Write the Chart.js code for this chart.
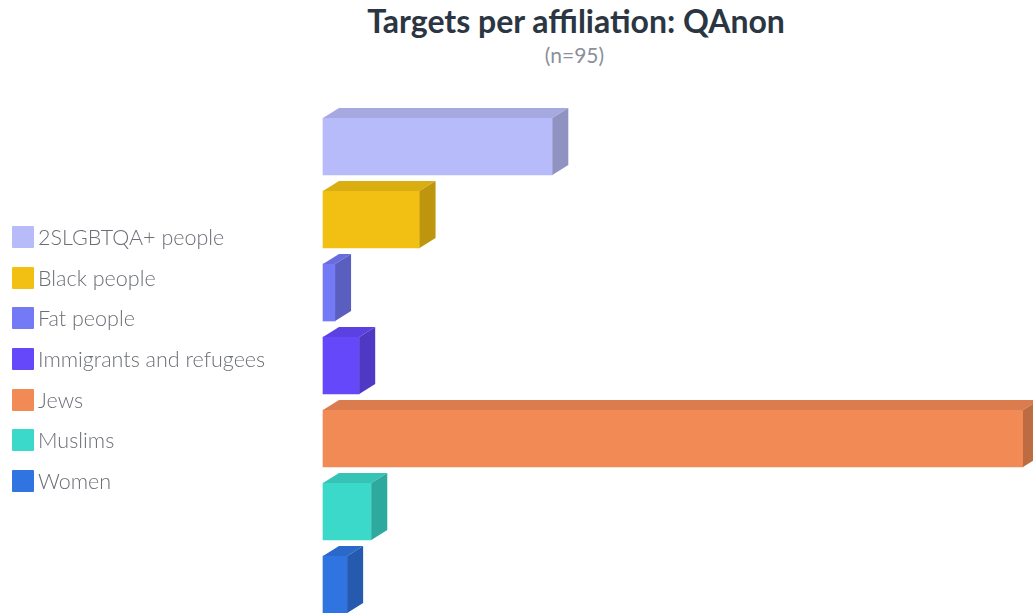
<!DOCTYPE html>
<html>
<head>
<meta charset="utf-8">
<script src="https://cdn.jsdelivr.net/npm/chart.js@4.4.1/dist/chart.umd.min.js"></script>
<style>
  html, body { margin: 0; padding: 0; background: #fff; }
  #wrap { position: relative; width: 1033px; height: 613px; overflow: hidden; }
  #title { position: absolute; left: 0; width: 1152px; top: 5px; text-align: center;
           font: 700 32px Lato, sans-serif; line-height: 32px; color: #2b3642; }
  #subtitle { position: absolute; left: 0; width: 1149px; top: 44px; text-align: center;
              font: 400 21px Lato, sans-serif; line-height: 21px; color: #8a8f9a; }
  #legend { position: absolute; left: 12px; top: 226px; }
  .item { display: flex; align-items: center; height: 22px; margin-bottom: 18.67px;
          font: 300 21.5px Lato, sans-serif; color: #6b6e75; white-space: nowrap; }
  .swatch { width: 22px; height: 22px; margin-right: 4px; border-radius: 1px; }
  #box { position: absolute; left: 0; top: 0; width: 1033px; height: 613px; }
</style>
</head>
<body>
<div id="wrap">
  <div id="title">Targets per affiliation: QAnon</div>
  <div id="subtitle">(n=95)</div>
  <div id="box"><canvas id="chart"></canvas></div>
  <div id="legend"></div>
</div>
<script>
// --- data ---
const categories = ['2SLGBTQA+ people', 'Black people', 'Fat people', 'Immigrants and refugees', 'Jews', 'Muslims', 'Women'];
const counts = [19, 8, 1, 3, 58, 4, 2];
const barColors = ['#b8bbf9', '#f2c012', '#7479f5', '#6548fa', '#f28a55', '#3bd9c9', '#2f74e0'];

// darken a hex colour by factor
const shade = (hex, f) => {
    const n = parseInt(hex.slice(1), 16);
    const r = Math.round(((n >> 16) & 255) * f);
    const g = Math.round(((n >> 8) & 255) * f);
    const b = Math.round((n & 255) * f);
    return `rgb(${r},${g},${b})`;
};

// fake 3D: top and right faces for every bar
const DX = 16, DY = 10;
const bars3d = {
    id: 'bars3d',
    afterDatasetsDraw(chart) {
        const ctx = chart.ctx;
        const meta = chart.getDatasetMeta(0);
        meta.data.forEach((bar, i) => {
            const { x, y, base, height } = bar.getProps(['x', 'y', 'base', 'height'], true);
            const top = y - height / 2, bot = y + height / 2;
            ctx.save();
            // top face
            ctx.fillStyle = shade(barColors[i], 0.9);
            ctx.beginPath();
            ctx.moveTo(base, top);
            ctx.lineTo(base + DX, top - DY);
            ctx.lineTo(x + DX, top - DY);
            ctx.lineTo(x, top);
            ctx.closePath();
            ctx.fill();
            // right face
            ctx.fillStyle = shade(barColors[i], 0.78);
            ctx.beginPath();
            ctx.moveTo(x, top);
            ctx.lineTo(x + DX, top - DY);
            ctx.lineTo(x + DX, bot - DY);
            ctx.lineTo(x, bot);
            ctx.closePath();
            ctx.fill();
            ctx.restore();
        });
    }
};

// legend (html, built from the same arrays)
const legendEl = document.getElementById('legend');
categories.forEach((c, i) => {
    const row = document.createElement('div');
    row.className = 'item';
    row.innerHTML = `<span class="swatch" style="background:${barColors[i]}"></span><span>${c}</span>`;
    legendEl.appendChild(row);
});

new Chart(document.getElementById('chart'), {
    type: 'bar',
    data: {
        labels: categories,
        datasets: [{
            data: counts,
            backgroundColor: barColors,
            borderWidth: 0,
            barThickness: 57,
            clip: false
        }]
    },
    options: {
        indexAxis: 'y',
        responsive: true,
        maintainAspectRatio: false,
        animation: false,
        layout: { padding: { top: 146.5, bottom: 28.5, right: 10, left: 323 } },
        plugins: {
            tooltip: { enabled: false },
            legend: { display: false }
        },
        scales: {
            x: { display: false, min: 0, max: 58 },
            y: { display: false, offset: false }
        }
    },
    plugins: [bars3d]
});
</script>
</body>
</html>
